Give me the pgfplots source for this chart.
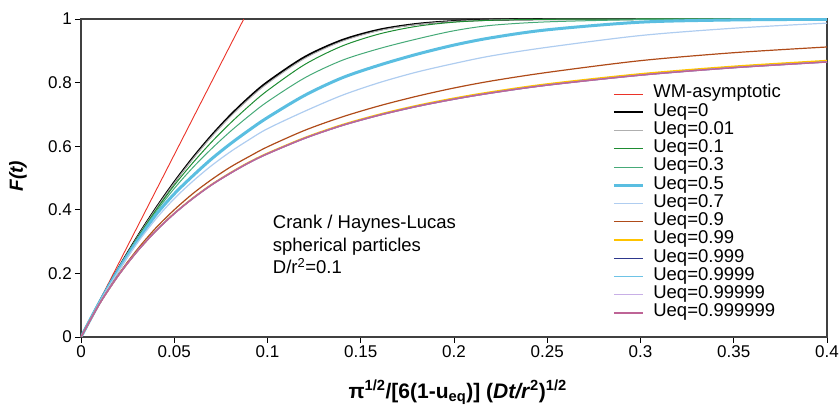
\documentclass[border=0pt]{standalone}
\usepackage{fontspec}
\setmainfont{Liberation Sans}
\usepackage{pgfplots}
\usepackage{pgfplotstable}
\pgfplotsset{compat=1.18}

\definecolor{wmred}{RGB}{235,50,40}
\definecolor{cA}{RGB}{175,175,175}
\definecolor{cB}{RGB}{30,140,50}
\definecolor{cC}{RGB}{70,170,120}
\definecolor{cD}{RGB}{90,190,225}
\definecolor{cE}{RGB}{175,205,240}
\definecolor{cF}{RGB}{175,75,25}
\definecolor{cG}{RGB}{255,195,0}
\definecolor{cH}{RGB}{45,55,140}
\definecolor{cI}{RGB}{110,195,230}
\definecolor{cJ}{RGB}{200,175,230}
\definecolor{cK}{RGB}{190,100,150}

\pgfplotstableread{
x     u0     u001   u01   u03   u05   u07   u09   u099   ulim
0     0      0      0     0     0     0     0     0      0
0.01  0.1112 0.1110 0.1108 0.1105 0.1100 0.1095 0.1060 0.1050 0.1050
0.02  0.2154 0.2148 0.2140 0.2130 0.2110 0.2060 0.1960 0.1935 0.1933
0.03  0.3128 0.3118 0.3100 0.3060 0.3010 0.2940 0.2740 0.2688 0.2684
0.04  0.4034 0.4016 0.3970 0.3920 0.3830 0.3700 0.3420 0.3332 0.3326
0.05  0.4870 0.4845 0.4770 0.4670 0.4500 0.4350 0.4000 0.3888 0.3880
0.06  0.5638 0.5605 0.5480 0.5330 0.5070 0.4900 0.4510 0.4370 0.4359
0.07  0.6336 0.6298 0.6130 0.5920 0.5600 0.5390 0.4950 0.4795 0.4783
0.08  0.6968 0.6925 0.6720 0.6460 0.6070 0.5820 0.5340 0.5162 0.5147
0.09  0.7528 0.7482 0.7260 0.6950 0.6500 0.6200 0.5670 0.5495 0.5478
0.10  0.8020 0.7972 0.7750 0.7400 0.6900 0.6550 0.5980 0.5780 0.5762
0.12  0.8806 0.8762 0.8570 0.8150 0.7600 0.7100 0.6500 0.6270 0.6250
0.14  0.9337 0.9300 0.9150 0.8700 0.8150 0.7600 0.6920 0.6675 0.6652
0.16  0.9664 0.9637 0.9530 0.9070 0.8550 0.8000 0.7270 0.7003 0.6977
0.18  0.9844 0.9827 0.9770 0.9370 0.8890 0.8330 0.7570 0.7278 0.7250
0.20  0.9934 0.9925 0.9900 0.9630 0.9180 0.8600 0.7830 0.7510 0.7479
0.22  0.9975 0.9970 0.9960 0.9800 0.9410 0.8840 0.8050 0.7708 0.7675
0.25  0.9995 0.9993 0.9990 0.9910 0.9660 0.9110 0.8320 0.7957 0.7921
0.30  1      1      1     0.9980 0.9900 0.9480 0.8690 0.8275 0.8235
0.35  1      1      1     1     0.9970 0.9710 0.8940 0.8512 0.8470
0.40  1      1      1     1     0.9990 0.9870 0.9120 0.8693 0.8649
}\datatable

\pgfplotstableread{
x      F
0      0
0.02   0.2292
0.04   0.4584
0.06   0.6876
0.08   0.9168
0.0873 1.0
}\wmtable

\begin{document}
\begin{tikzpicture}
\begin{axis}[
  width=746pt, height=318pt, scale only axis,
  at={(0,0)}, anchor=south west,
  xmin=0, xmax=0.4, ymin=0, ymax=1,
  xtick={0,0.05,0.1,0.15,0.2,0.25,0.3,0.35,0.4},
  xticklabels={0,0.05,0.1,0.15,0.2,0.25,0.3,0.35,0.4},
  ytick={0,0.2,0.4,0.6,0.8,1},
  yticklabels={0,0.2,0.4,0.6,0.8,1},
  tick pos=left, tick align=outside, major tick length=6pt,
  tick style={black, line width=0.9pt},
  axis line style={black!75, line width=1.1pt},
  tick label style={font=\fontsize{17}{17}\selectfont},
  xticklabel style={inner sep=2pt},
  yticklabel style={inner sep=3pt},
  xlabel={\textbf{π\textsuperscript{1/2}/[6(1-u\textsubscript{eq})] (\textit{Dt/r}\textsuperscript{2})\textsuperscript{1/2}}},
  ylabel={\textbf{\textit{F(t)}}},
  label style={font=\fontsize{19}{19}\selectfont},
  xlabel style={at={(axis description cs:0.505,-0.173)}, anchor=center, font=\fontsize{21}{21}\selectfont},
  ylabel style={at={(axis description cs:-0.0845,0.506)}, anchor=center},
  legend style={draw=none, fill=none, at={(axis description cs:0.712,0.793)}, anchor=north west,
    font=\fontsize{18.5}{18.5}\selectfont, row sep=0pt, column sep=9pt, inner sep=0pt,
    nodes={inner xsep=0pt, inner ysep=0pt, text height=12.75pt, text depth=5.5pt}},
  legend cell align=left,
  legend image code/.code={\draw[#1] (0pt,0pt) -- (29pt,0pt);},
  every axis plot/.append style={line join=round},
]
\addplot[wmred, line width=0.9pt] table[x=x,y=F] {\wmtable};
\addlegendentry{WM-asymptotic}
\addplot[black, line width=2pt, smooth] table[x=x,y=u0] {\datatable};
\addlegendentry{Ueq=0}
\addplot[cA, line width=1pt, smooth] table[x=x,y=u001] {\datatable};
\addlegendentry{Ueq=0.01}
\addplot[cB, line width=1pt, smooth] table[x=x,y=u01] {\datatable};
\addlegendentry{Ueq=0.1}
\addplot[cC, line width=1pt, smooth] table[x=x,y=u03] {\datatable};
\addlegendentry{Ueq=0.3}
\addplot[cD, line width=3pt, smooth] table[x=x,y=u05] {\datatable};
\addlegendentry{Ueq=0.5}
\addplot[cE, line width=1.2pt, smooth] table[x=x,y=u07] {\datatable};
\addlegendentry{Ueq=0.7}
\addplot[cF, line width=1.2pt, smooth] table[x=x,y=u09] {\datatable};
\addlegendentry{Ueq=0.9}
\addplot[cG, line width=1.5pt, smooth] table[x=x,y=u099] {\datatable};
\addlegendentry{Ueq=0.99}
\addplot[cH, line width=1.2pt, smooth] table[x=x,y=ulim] {\datatable};
\addlegendentry{Ueq=0.999}
\addplot[cI, line width=1.2pt, smooth] table[x=x,y=ulim] {\datatable};
\addlegendentry{Ueq=0.9999}
\addplot[cJ, line width=1.2pt, smooth] table[x=x,y=ulim] {\datatable};
\addlegendentry{Ueq=0.99999}
\addplot[cK, line width=1.5pt, smooth] table[x=x,y=ulim] {\datatable};
\addlegendentry{Ueq=0.999999}
\node[anchor=north west, align=left, inner sep=0pt, font=\fontsize{18.5}{22.5}\selectfont]
  at (axis description cs:0.257,0.383) {Crank / Haynes-Lucas\\spherical particles\\D/r\textsuperscript{2}=0.1};
\end{axis}
\pgfresetboundingbox
\path[use as bounding box] (-81pt,-72pt) rectangle (758pt,337pt);
\end{tikzpicture}
\end{document}
